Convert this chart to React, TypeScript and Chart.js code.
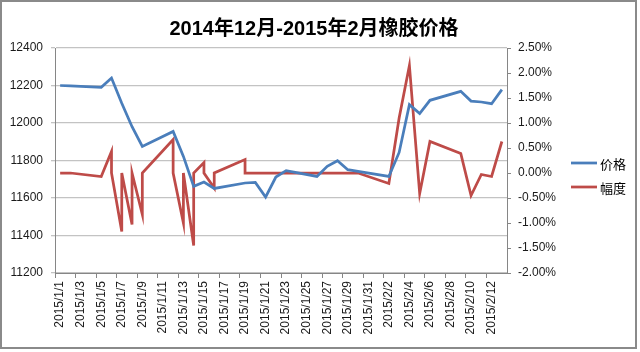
import React, { useEffect, useRef } from 'react';
import { Chart, registerables } from 'chart.js';

Chart.register(...registerables);

const TITLE = '2014年12月-2015年2月橡胶价格';
const SERIES_NAMES = ['价格', '幅度'];

const dateLabels = [
  '2015/1/1', '2015/1/2', '2015/1/3', '2015/1/4', '2015/1/5', '2015/1/6', '2015/1/7', '2015/1/8',
  '2015/1/9', '2015/1/10', '2015/1/11', '2015/1/12', '2015/1/13', '2015/1/14', '2015/1/15', '2015/1/16',
  '2015/1/17', '2015/1/18', '2015/1/19', '2015/1/20', '2015/1/21', '2015/1/22', '2015/1/23', '2015/1/24',
  '2015/1/25', '2015/1/26', '2015/1/27', '2015/1/28', '2015/1/29', '2015/1/30', '2015/1/31', '2015/2/1',
  '2015/2/2', '2015/2/3', '2015/2/4', '2015/2/5', '2015/2/6', '2015/2/7', '2015/2/8', '2015/2/9',
  '2015/2/10', '2015/2/11', '2015/2/12', '2015/2/13',
];

const priceDates = [
  '2015/1/1', '2015/1/2', '2015/1/5', '2015/1/6', '2015/1/7', '2015/1/8', '2015/1/9', '2015/1/12',
  '2015/1/13', '2015/1/14', '2015/1/15', '2015/1/16', '2015/1/19', '2015/1/20', '2015/1/21', '2015/1/22',
  '2015/1/23', '2015/1/26', '2015/1/27', '2015/1/28', '2015/1/29', '2015/1/30', '2015/2/2', '2015/2/3',
  '2015/2/4', '2015/2/5', '2015/2/6', '2015/2/9', '2015/2/10', '2015/2/11', '2015/2/12', '2015/2/13',
];
const priceValues = [
  12200, 12198, 12190, 12240, 12105, 11980, 11875, 11955,
  11822, 11662, 11685, 11651, 11680, 11683, 11605, 11712,
  11746, 11715, 11769, 11799, 11751, 11742, 11715, 11843,
  12098, 12050, 12121, 12169, 12117, 12112, 12103, 12178,
];

const rangeDates = [
  '2015/1/1', '2015/1/2', '2015/1/5', '2015/1/6', '2015/1/6', '2015/1/7', '2015/1/7', '2015/1/8',
  '2015/1/8', '2015/1/9', '2015/1/9', '2015/1/12', '2015/1/12', '2015/1/13', '2015/1/13', '2015/1/14',
  '2015/1/14', '2015/1/15', '2015/1/15', '2015/1/16', '2015/1/16', '2015/1/19', '2015/1/19', '2015/1/20',
  '2015/1/21', '2015/1/22', '2015/1/23', '2015/1/26', '2015/1/27', '2015/1/28', '2015/1/29', '2015/1/30',
  '2015/2/2', '2015/2/3', '2015/2/4', '2015/2/5', '2015/2/6', '2015/2/9', '2015/2/10', '2015/2/11',
  '2015/2/12', '2015/2/13',
];
const rangeValues = [
  0, 0, -0.07, 0.43, 0, -1.17, 0, -1.03,
  0, -0.83, 0, 0.67, 0, -1.0, 0, -1.45,
  0, 0.21, 0, -0.3, 0, 0.27, 0, 0,
  0, 0, 0, 0, 0, 0, 0, 0,
  -0.21, 1.1, 2.15, -0.41, 0.63, 0.39, -0.45, -0.03,
  -0.07, 0.63,
];

const BLUE = '#4A7EBB';
const RED = '#BE4B48';
const AXIS = '#868686';
const GRID = '#c3c3c3';
const LATIN = "'Liberation Sans', 'Noto Sans CJK SC', sans-serif";
const CJK = "'Noto Sans CJK SC', 'Liberation Sans', sans-serif";

const decorPlugin = {
  id: 'decor',
  beforeDraw(chart: any) {
    const ctx = chart.ctx;
    ctx.save();
    ctx.fillStyle = '#ffffff';
    ctx.fillRect(0, 0, chart.width, chart.height);
    ctx.restore();
  },
  afterDraw(chart: any) {
    const ctx = chart.ctx;
    ctx.save();
    // border
    ctx.strokeStyle = '#8a8a8a';
    ctx.lineWidth = 2;
    ctx.strokeRect(1, 1, 635, 347);
    // title
    ctx.fillStyle = '#000000';
    ctx.font = `bold 20px ${LATIN}`;
    ctx.textAlign = 'center';
    ctx.textBaseline = 'middle';
    ctx.fillText(TITLE, 314, 29);
    // legend
    const colors = [BLUE, RED];
    const ys = [163, 187];
    ctx.font = `13px ${CJK}`;
    ctx.textAlign = 'left';
    SERIES_NAMES.forEach((name, i) => {
      ctx.strokeStyle = colors[i];
      ctx.lineWidth = 2.75;
      ctx.beginPath();
      ctx.moveTo(571, ys[i]);
      ctx.lineTo(597, ys[i]);
      ctx.stroke();
      ctx.fillStyle = '#000000';
      ctx.fillText(name, 600, ys[i] + 1);
    });
    ctx.restore();
  },
};

export default function App() {
  const canvasRef = useRef<HTMLCanvasElement | null>(null);

  useEffect(() => {
    document.body.style.margin = '0';
    const canvas = canvasRef.current;
    if (!canvas) return;
    Chart.defaults.font.family = LATIN;
    Chart.defaults.font.size = 12;
    Chart.defaults.color = '#1a1a1a';

    const chart = new Chart(canvas, {
      type: 'line',
      data: {
        labels: dateLabels,
        datasets: [
          {
            label: SERIES_NAMES[0],
            data: priceDates.map((d, i) => ({ x: d, y: priceValues[i] })),
            borderColor: BLUE,
            backgroundColor: BLUE,
            borderWidth: 2.75,
            pointRadius: 0,
            tension: 0,
            yAxisID: 'y',
          },
          {
            label: SERIES_NAMES[1],
            data: rangeDates.map((d, i) => ({ x: d, y: rangeValues[i] })),
            borderColor: RED,
            backgroundColor: RED,
            borderWidth: 2.75,
            pointRadius: 0,
            tension: 0,
            yAxisID: 'y1',
          },
        ],
      },
      options: {
        animation: false,
        responsive: false,
        devicePixelRatio: 1,
        layout: { padding: { top: 48, right: 73, bottom: 0, left: 0 } },
        plugins: {
          legend: { display: false },
          title: { display: false },
          tooltip: { enabled: false },
        },
        scales: {
          x: {
            type: 'category',
            offset: true,
            grid: {
              offset: true,
              drawOnChartArea: false,
              drawTicks: true,
              tickLength: 5,
              lineWidth: 1,
              color: (c: any) => (c.index % 2 === 0 ? AXIS : 'rgba(0,0,0,0)'),
            },
            border: { color: AXIS, width: 1 },
            ticks: {
              autoSkip: false,
              maxRotation: 90,
              minRotation: 90,
              padding: 3,
              font: { size: 12 },
              callback: (_v: any, i: number) => (i % 2 === 0 ? dateLabels[i] : ''),
            },
            afterFit: (s: any) => {
              s.height = 79;
            },
          },
          y: {
            position: 'left',
            min: 11200,
            max: 12400,
            ticks: {
              stepSize: 200,
              padding: 8,
              font: { size: 12 },
              callback: (v: any) => String(v),
            },
            grid: { color: GRID, lineWidth: 1.3, tickLength: 4 },
            border: { color: AXIS, width: 1 },
            afterFit: (s: any) => {
              s.width = 55;
            },
          },
          y1: {
            position: 'right',
            min: -2,
            max: 2.5,
            ticks: {
              stepSize: 0.5,
              padding: 7,
              font: { size: 12 },
              callback: (v: any) => Number(v).toFixed(2) + '%',
            },
            grid: { drawOnChartArea: false, color: AXIS, tickLength: 4 },
            border: { color: AXIS, width: 1 },
            afterFit: (s: any) => {
              s.width = 60;
            },
          },
        },
      },
      plugins: [decorPlugin],
    });
    return () => chart.destroy();
  }, []);

  return (
    <div style={{ position: 'absolute', left: 0, top: 0, width: 640, height: 352 }}>
      <canvas ref={canvasRef} width={640} height={352} style={{ width: 640, height: 352, display: 'block' }} />
    </div>
  );
}
